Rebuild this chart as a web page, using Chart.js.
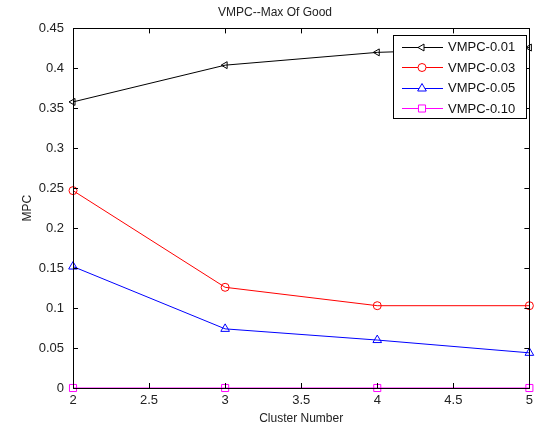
<!DOCTYPE html>
<html>
<head>
<meta charset="utf-8">
<script src="https://cdn.jsdelivr.net/npm/chart.js@4.4.0/dist/chart.umd.min.js"></script>
<style>
  html, body { margin: 0; padding: 0; background: #fff; }
</style>
</head>
<body>
<canvas id="chart" width="538" height="427"></canvas>
<script>
// cluster numbers on the x axis
var clusters = [2, 3, 4, 5];
// MPC values
var vmpc001 = [0.358, 0.404, 0.420, 0.426];
var vmpc003 = [0.247, 0.126, 0.103, 0.103];
var vmpc005 = [0.152, 0.074, 0.060, 0.044];
var vmpc010 = [0, 0, 0, 0];
var seriesNames = ['VMPC-0.01', 'VMPC-0.03', 'VMPC-0.05', 'VMPC-0.10'];
var xTicks = [2, 2.5, 3, 3.5, 4, 4.5, 5];
var yTicks = [0, 0.05, 0.1, 0.15, 0.2, 0.25, 0.3, 0.35, 0.4, 0.45];

function pts(vals) {
    return clusters.map(function (c, i) { return {x: c, y: vals[i]}; });
}

var styles = [
    {color: '#000000', pointStyle: 'triangle', rot: -90, r: 4},
    {color: '#ff0000', pointStyle: 'circle', rot: 0, r: 4},
    {color: '#0000ff', pointStyle: 'triangle', rot: 0, r: 5},
    {color: '#ff00ff', pointStyle: 'rect', rot: 0, r: 5}
];
var allData = [vmpc001, vmpc003, vmpc005, vmpc010];

var datasets = allData.map(function (vals, i) {
    var s = styles[i];
    return {
        label: seriesNames[i],
        data: pts(vals),
        borderColor: s.color,
        backgroundColor: 'rgba(0,0,0,0)',
        borderWidth: 1,
        pointStyle: s.pointStyle,
        pointRotation: s.rot,
        pointRadius: s.r,
        pointBorderWidth: 1,
        pointBorderColor: s.color,
        pointBackgroundColor: 'rgba(0,0,0,0)',
        tension: 0,
        clip: false
    };
});

// matlab style box, inward ticks and legend box
var matlabBox = {
    id: 'matlabBox',
    afterDraw: function (chart) {
        var ctx = chart.ctx, a = chart.chartArea;
        var xs = chart.scales.x, ys = chart.scales.y;
        ctx.save();
        ctx.strokeStyle = '#000';
        ctx.lineWidth = 1;
        ctx.strokeRect(Math.round(a.left) + 0.5, Math.round(a.top) + 0.5,
            Math.round(a.right - a.left), Math.round(a.bottom - a.top));
        ctx.beginPath();
        xTicks.forEach(function (t) {
            var px = Math.round(xs.getPixelForValue(t)) + 0.5;
            ctx.moveTo(px, a.bottom); ctx.lineTo(px, a.bottom - 5);
            ctx.moveTo(px, a.top); ctx.lineTo(px, a.top + 5);
        });
        yTicks.forEach(function (t) {
            var py = Math.round(ys.getPixelForValue(t)) + 0.5;
            ctx.moveTo(a.left, py); ctx.lineTo(a.left + 5, py);
            ctx.moveTo(a.right, py); ctx.lineTo(a.right - 5, py);
        });
        ctx.stroke();

        // legend
        var lx = 393, ly = 35, lw = 133, lh = 83;
        ctx.fillStyle = '#fff';
        ctx.fillRect(lx, ly, lw, lh);
        ctx.strokeRect(lx + 0.5, ly + 0.5, lw, lh);
        ctx.font = '13px "Liberation Sans", Arial, sans-serif';
        ctx.textBaseline = 'middle';
        seriesNames.forEach(function (name, i) {
            var s = styles[i];
            var y = ly + 11.5 + i * 20.5;
            ctx.strokeStyle = s.color;
            ctx.beginPath();
            ctx.moveTo(402, Math.round(y) + 0.5);
            ctx.lineTo(443, Math.round(y) + 0.5);
            ctx.stroke();
            ctx.fillStyle = '#fff';
            Chart.helpers.drawPoint(ctx, {
                pointStyle: s.pointStyle, rotation: s.rot, radius: s.r, borderWidth: 1
            }, 422, Math.round(y) + 0.5);
            ctx.fillStyle = '#111';
            ctx.fillText(name, 448, y + 1);
        });
        ctx.restore();
    }
};

var fontFam = '"Liberation Sans", Arial, sans-serif';

new Chart(document.getElementById('chart'), {
    type: 'line',
    data: {datasets: datasets},
    options: {
        responsive: false,
        animation: false,
        maintainAspectRatio: false,
        layout: {padding: {top: 0, right: 8, left: 20, bottom: 0}},
        plugins: {
            legend: {display: false},
            tooltip: {enabled: false},
            title: {
                display: true,
                text: 'VMPC--Max Of Good',
                color: '#222',
                font: {family: fontFam, size: 12, weight: 'normal'},
                padding: {top: 5, bottom: 9}
            }
        },
        scales: {
            x: {
                type: 'linear',
                min: 2, max: 5,
                afterBuildTicks: function (s) { s.ticks = xTicks.map(function (v) { return {value: v}; }); },
                afterFit: function (s) { s.height = 39; },
                grid: {display: false, drawTicks: false},
                border: {display: false},
                ticks: {
                    color: '#222', padding: 5, autoSkip: false, maxRotation: 0,
                    font: {family: fontFam, size: 13},
                    callback: function (v) { return String(v); }
                },
                title: {
                    display: true, text: 'Cluster Number', color: '#222',
                    font: {family: fontFam, size: 12}, padding: {top: 0, bottom: 1}
                }
            },
            y: {
                type: 'linear',
                min: 0, max: 0.45,
                afterBuildTicks: function (s) { s.ticks = yTicks.map(function (v) { return {value: v}; }); },
                afterFit: function (s) { s.width = 53; },
                grid: {display: false, drawTicks: false},
                border: {display: false},
                ticks: {
                    color: '#222', padding: 9, autoSkip: false,
                    font: {family: fontFam, size: 13},
                    callback: function (v) { return String(Math.round(v * 100) / 100); }
                },
                title: {
                    display: true, text: 'MPC', color: '#222',
                    font: {family: fontFam, size: 12}, padding: {top: 0, bottom: 0}
                }
            }
        }
    },
    plugins: [matlabBox]
});
</script>
</body>
</html>
